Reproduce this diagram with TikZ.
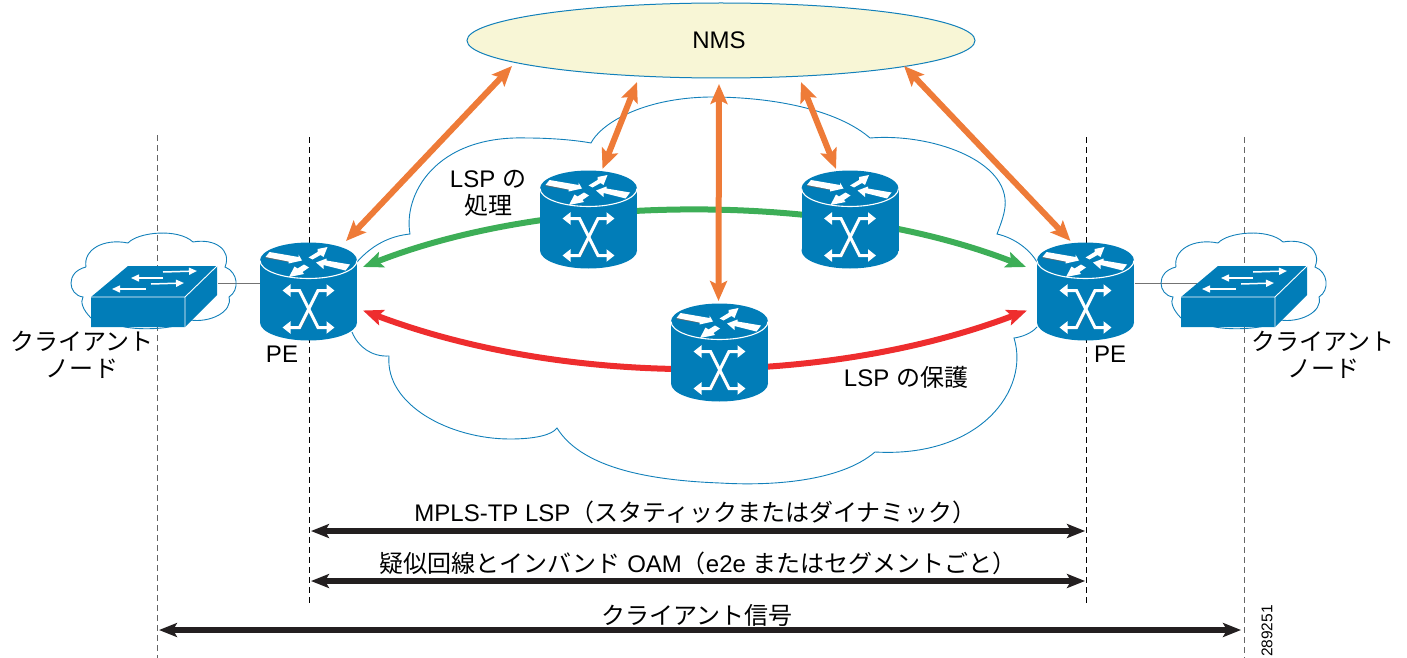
\documentclass[tikz,border=0pt]{standalone}
\usepackage{fontspec}
\setmainfont{Liberation Sans}
\newfontfamily\cjk{Noto Sans CJK JP}
\usetikzlibrary{arrows.meta,calc,shapes.geometric}
\definecolor{cisco}{HTML}{017DB8}
\definecolor{cloudline}{HTML}{1280BA}
\definecolor{nmsfill}{HTML}{F8F6D6}
\definecolor{orangeA}{HTML}{EE7B38}
\definecolor{greenA}{HTML}{3DAE57}
\definecolor{redA}{HTML}{EE2D2E}
\definecolor{blackA}{HTML}{231F20}
\tikzset{
  routerbox/.style={inner sep=0pt,minimum width=97pt,minimum height=98pt},
  switchbox/.style={inner sep=0pt,minimum width=126pt,minimum height=61pt},
  nmsnode/.style={ellipse,draw=cloudline,fill=nmsfill,line width=1pt,inner sep=0pt,minimum width=508pt,minimum height=75pt},
  lab/.style={font=\fontsize{24}{27}\selectfont,inner sep=0pt,align=center,text=black},
  cloudpath/.style={draw=cloudline,line width=0.9pt},
  guide/.style={black,line width=1pt,dash pattern=on 6pt off 4pt},
  guidegrey/.style={black!60,line width=1pt,dash pattern=on 6pt off 4pt},
  link/.style={black!55,line width=1.6pt},
  orangearrow/.style={orangeA,line width=6pt,{Stealth[length=20pt,width=17pt,inset=4pt]}-{Stealth[length=20pt,width=17pt,inset=4pt]}},
  lspgreen/.style={greenA,line width=6pt,{Stealth[length=20pt,width=16pt,inset=4pt]}-{Stealth[length=20pt,width=16pt,inset=4pt]}},
  lspred/.style={redA,line width=6pt,{Stealth[length=20pt,width=16pt,inset=4pt]}-{Stealth[length=20pt,width=16pt,inset=4pt]}},
  spanarrow/.style={blackA,line width=5.5pt,{Stealth[length=18pt,width=14pt,inset=4pt]}-{Stealth[length=18pt,width=14pt,inset=4pt]}},
  xarrow/.style={white,line width=3pt,line join=miter,{Triangle[length=8pt,width=12pt]}-{Triangle[length=8pt,width=12pt]}},
  xshadow/.style={black!60,line width=1pt},
  routerpic/.pic={
    \fill[cisco] (-48.5,-31) rectangle (48.5,31);
    \fill[cisco] (0,31) ellipse [x radius=48.5pt,y radius=18pt];
    \fill[cisco] (0,-31) ellipse [x radius=48.5pt,y radius=18pt];
    \draw[white,line width=1.1pt] (-48.5,-31) arc [start angle=180,end angle=360,x radius=48.5pt,y radius=18pt];
    \draw[xshadow] (-43,-34) -- (-20,-30);
    \fill[white] (-43,-34.5) -- (-39,-39.5) -- (-10,-34.5) -- (-10,-37) -- (-6.5,-31) -- (-20,-28) -- (-20,-30) -- cycle;
    \fill[white] (0,-34) -- (9,-39.5) -- (9,-42.5) -- (19,-44.5) -- (15,-34.5) -- (12,-36.5) -- (4,-32) -- cycle;
    \fill[white] (7.5,-29) -- (18,-33) -- (18,-31) -- (41.5,-27) -- (37,-21) -- (15,-26.5) -- (15,-22.5) -- cycle;
    \fill[white] (-19.5,-14.5) -- (-14,-25) -- (-11,-23) -- (-4.5,-27) -- (0.5,-24) -- (-6,-19.5) -- (-4.5,-17.5) -- cycle;
    \draw[xshadow] (-18,36.8) -- (-8,36.8) -- (1,19);
    \draw[xshadow] (9,1) -- (13,-2) -- (20,-2);
    \draw[xarrow] (-26,-1) -- (-9,-1) -- (9.5,36) -- (26,36);
    \draw[xarrow] (-26,36) -- (-9,36) -- (9.5,-1) -- (26,-1);
  },
  switchpic/.pic={
    \draw[cloudpath] (86,267) .. controls (83,250) and (103,238) .. (128,243)
      .. controls (138,232) and (178,228) .. (193,242)
      .. controls (215,238) and (232,250) .. (225,267)
      .. controls (238,272) and (240,290) .. (229,297)
      .. controls (233,312) and (210,323) .. (190,320)
      .. controls (175,330) and (140,330) .. (125,327)
      -- (91,318) .. controls (83,310) and (80,302) .. (83,297)
      .. controls (68,295) and (65,272) .. (86,267);
    \fill[cisco] (91,297) -- (128,266) -- (217,266) -- (217,295) -- (185,327) -- (91,327) -- cycle;
    \draw[white,line width=0.9pt] (91,297) -- (185,297) -- (217,266) (185,297) -- (185,327);
    \draw[white,line width=1.5pt,-{Triangle[length=8pt,width=7pt]}] (163,272) -- (197,271);
    \draw[white,line width=1.5pt,-{Triangle[length=8pt,width=7pt]}] (163,278) -- (131,278);
    \draw[white,line width=1.5pt,-{Triangle[length=8pt,width=7pt]}] (151,284) -- (184,283);
    \draw[white,line width=1.5pt,-{Triangle[length=8pt,width=7pt]}] (146,289) -- (112,289);
  }
}
\begin{document}
\begin{tikzpicture}[x=1pt,y=-1pt]
\useasboundingbox (0,0) rectangle (1407,658);
% guide lines
\coordinate (g1a) at (157,135); \coordinate (g1b) at (157,658);
\coordinate (g2a) at (309,137); \coordinate (g2b) at (309,604);
\coordinate (g3a) at (1086,137); \coordinate (g3b) at (1086,604);
\coordinate (g4a) at (1244,137); \coordinate (g4b) at (1244,658);
\draw[guidegrey] (g1a) -- (g1b);
\draw[guide] (g2a) -- (g2b);
\draw[guide] (g3a) -- (g3b);
\draw[guidegrey] (g4a) -- (g4b);
% provider cloud
\draw[cloudpath] (357,262) .. controls (372,245) and (390,236) .. (410,234)
  .. controls (403,195) and (435,135) .. (527,138)
  .. controls (550,138) and (575,140) .. (591,143)
  .. controls (600,125) and (640,98) .. (710,97)
  .. controls (780,97) and (840,112) .. (870,138)
  .. controls (930,133) and (1010,160) .. (1005,207)
  .. controls (1004,216) and (1000,226) .. (997,234)
  .. controls (1015,238) and (1030,250) .. (1037,262);
\draw[cloudpath] (1037,327) .. controls (1032,333) and (1022,337) .. (1014,338)
  .. controls (1030,390) and (980,458) .. (875,452)
  .. controls (840,482) and (770,486) .. (720,483)
  .. controls (640,480) and (580,465) .. (557,428)
  .. controls (552,435) and (535,439) .. (510,439)
  .. controls (450,439) and (385,405) .. (389,356)
  .. controls (372,357) and (358,347) .. (352,332);
% named nodes
\node[routerbox] (pe1) at (308.5,291.5) {};
\node[routerbox] (pe2) at (1085.5,291.5) {};
\node[routerbox] (r1) at (588.5,219.5) {};
\node[routerbox] (r2) at (850,219.5) {};
\node[routerbox] (r3) at (719.5,352.5) {};
\node[switchbox] (sw1) at (154,296.5) {};
\node[switchbox] (sw2) at (1244,296.5) {};
\node[nmsnode] (nms) at (721,40.5) {};
% access links
\draw[link] ($(sw1)+(64,-13)$) -- ($(pe1)+(-49,-8)$);
\draw[link] ($(pe2)+(49,-8)$) -- ($(sw2)+(-47,-13)$);
% LSPs
\draw[lspgreen] ($(pe1)+(54.5,-24.5)$) .. controls (555,192) and (833,192) .. ($(pe2)+(-59.5,-24.5)$);
\draw[lspred] ($(pe1)+(54.5,19)$) .. controls (566,387) and (824,387) .. ($(pe2)+(-58.5,19)$);
% equipment
\pic at (pe1) {routerpic};
\pic at (pe2) {routerpic};
\pic at (r1) {routerpic};
\pic at (r2) {routerpic};
\pic at (r3) {routerpic};
\pic at (0,0) {switchpic};
\pic at (1090,0) {switchpic};
% NMS links
\draw[orangearrow] ($(nms)+(-209,25.5)$) -- ($(pe1)+(37.5,-50.5)$);
\draw[orangearrow] ($(nms)+(-84,41.5)$) -- ($(r1)+(14,-50.5)$);
\draw[orangearrow] ($(nms)+(-2,43.5)$) -- ($(r3)+(-1,-51.5)$);
\draw[orangearrow] ($(nms)+(80,41.5)$) -- ($(r2)+(-14,-50.5)$);
\draw[orangearrow] ($(nms)+(183,25.5)$) -- ($(pe2)+(-15,-50.5)$);
% spans
\coordinate (s1a) at (311,531); \coordinate (s1b) at (1085,531);
\coordinate (s2a) at (311,581); \coordinate (s2b) at (1085,581);
\coordinate (s3a) at (159,630); \coordinate (s3b) at (1241,630);
\draw[spanarrow] (s1a) -- (s1b);
\draw[spanarrow] (s2a) -- (s2b);
\draw[spanarrow] (s3a) -- (s3b);
% labels
\node[lab] (tnms) at (719,40) {NMS};
\node[lab] (tproc) at (488,193) {LSP {\cjk の}\\{\cjk 処理}};
\node[lab] (tpe1) at (282,354) {PE};
\node[lab] (tpe2) at (1110,354) {PE};
\node[lab] (tprot) at (906,377) {LSP {\cjk の保護}};
\node[lab] (tc1) at (82,354.5) {\cjk クライアント\\\cjk ノード};
\node[lab] (tc2) at (1323,354.5) {\cjk クライアント\\\cjk ノード};
\node[lab] (t1) at (695.5,512) {MPLS-TP LSP{\cjk （スタティックまたはダイナミック）}};
\node[lab] (t2) at (698,563) {{\cjk 疑似回線とインバンド} OAM{\cjk （}e2e {\cjk またはセグメントごと）}};
\node[lab] (t3) at (697,615) {\cjk クライアント信号};
\node[font=\fontsize{15.5}{18}\selectfont,inner sep=0pt,rotate=90] (tid) at (1267,631) {289251};
\end{tikzpicture}
\end{document}
